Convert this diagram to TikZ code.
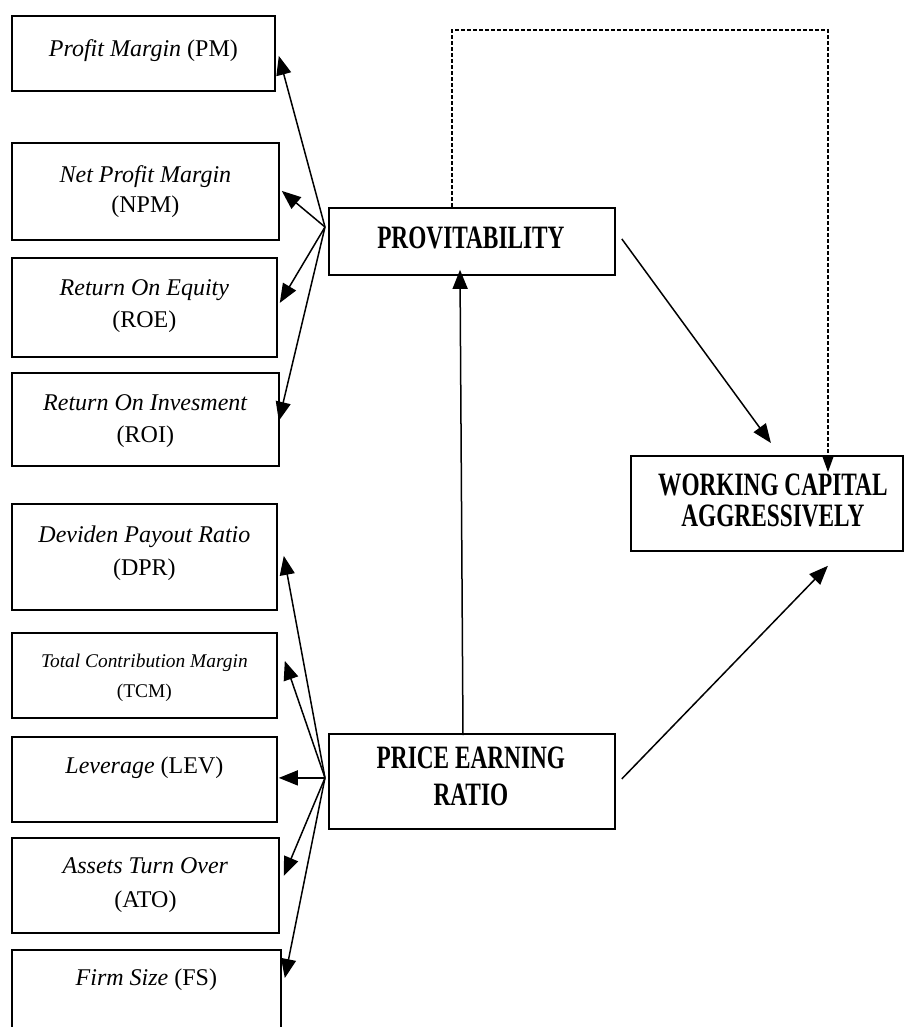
\documentclass[tikz,border=0pt]{standalone}
\usepackage{fontspec}
\setmainfont{Liberation Serif}
\usetikzlibrary{arrows.meta,calc}
\newcommand{\blab}[1]{\scalebox{1}[1.4]{\bfseries #1}}
\begin{document}
\begin{tikzpicture}[x=1pt,y=-1pt,
  box/.style={draw, line width=1.8pt, anchor=north west, inner sep=0pt},
  itl/.style={anchor=base, inner sep=0pt, align=center, font=\fontsize{24}{#1}\selectfont},
  itl/.default=32,
  bld/.style={anchor=base, inner sep=0pt, align=center, font=\fontsize{23.3}{#1}\selectfont},
  bld/.default=34,
  arr/.style={line width=1.5pt, -{Triangle[length=19pt,width=15pt]}},
  dsh/.style={line width=1.3pt, dash pattern=on 4pt off 2pt}]
\useasboundingbox (0,0) rectangle (906,1027);
\fill[white] (0,0) rectangle (906,1027);
\clip (0,0) rectangle (906,1027);

% left boxes
\node[box, minimum width=263pt, minimum height=75pt] (pm) at (11,15) {};
\node[box, minimum width=267pt, minimum height=97pt] (npm) at (11,142) {};
\node[box, minimum width=265pt, minimum height=99pt] (roe) at (11,257) {};
\node[box, minimum width=267pt, minimum height=93pt] (roi) at (11,372) {};
\node[box, minimum width=265pt, minimum height=106pt] (dpr) at (11,503) {};
\node[box, minimum width=265pt, minimum height=85pt] (tcm) at (11,632) {};
\node[box, minimum width=265pt, minimum height=85pt] (lev) at (11,736) {};
\node[box, minimum width=267pt, minimum height=95pt] (ato) at (11,837) {};
\node[box, minimum width=269pt, minimum height=100pt] (fs) at (11,949) {};

% main boxes
\node[box, minimum width=286pt, minimum height=67pt] (prov) at (328,207) {};
\node[box, minimum width=286pt, minimum height=95pt] (per) at (328,733) {};
\node[box, minimum width=272pt, minimum height=95pt] (wc) at (630,455) {};

% texts (base anchor = baseline of last line)
\node[itl] (pmt) at ($(pm.north)+(0,42)$) {\textit{Profit Margin} (PM)};
\node[itl=30] (npmt) at ($(npm.north)+(0,70)$) {\textit{Net Profit Margin}\\(NPM)};
\node[itl=32] (roet) at ($(roe.north)+(0,70)$) {\textit{Return On Equity}\\(ROE)};
\node[itl=32] (roit) at ($(roi.north)+(0,70)$) {\textit{Return On Invesment}\\(ROI)};
\node[itl=33] (dprt) at ($(dpr.north)+(0,72)$) {\textit{Deviden Payout Ratio}\\(DPR)};
\node[anchor=base, inner sep=0pt, align=center, font=\fontsize{19.4}{30}\selectfont] (tcmt) at ($(tcm.north)+(0,65)$) {\textit{Total Contribution Margin}\\(TCM)};
\node[itl] (levt) at ($(lev.north)+(0,37)$) {\textit{Leverage} (LEV)};
\node[itl=34] (atot) at ($(ato.north)+(0,70)$) {\textit{Assets Turn Over}\\(ATO)};
\node[itl] (fst) at ($(fs.north)+(0,36)$) {\textit{Firm Size} (FS)};

\node[bld] (provt) at ($(prov.north)+(-1,41)$) {\blab{PROVITABILITY}};
\node[bld=37] (pert) at ($(per.north)+(-1,72)$) {\blab{PRICE EARNING}\\\blab{RATIO}};
\node[bld=31] (wct) at ($(wc.north)+(6,71)$) {\blab{WORKING CAPITAL}\\\blab{AGGRESSIVELY}};

% fan from PROVITABILITY
\coordinate (pf) at ($(prov.north west)+(-3,20)$);
\draw[arr] (pf) -- ($(pm.east)+(3,2.5)$);
\draw[arr] (pf) -- ($(npm.east)+(2,-0.5)$);
\draw[arr] (pf) -- ($(roe.east)+(2,-4.5)$);
\draw[arr] (pf) -- ($(roi.east)+(-1,1.5)$);

% fan from PRICE EARNING RATIO
\coordinate (qf) at ($(per.west)+(-3,-3.5)$);
\draw[arr] (qf) -- ($(dpr.east)+(6,-1)$);
\draw[arr] (qf) -- ($(tcm.east)+(7,-14.5)$);
\draw[arr] (qf) -- ($(lev.east)+(1,-1.5)$);
\draw[arr] (qf) -- ($(ato.east)+(4,-9.5)$);
\draw[arr] (qf) -- ($(fs.north east)+(3,29)$);

% main arrows
\draw[arr] ($(per.north west)+(135,2)$) -- ($(prov.south west)+(132,-6)$);
\draw[arr] ($(prov.east)+(6,-2.5)$) -- ($(wc.north)+(4,-12)$);
\draw[arr] ($(per.east)+(6,-2.5)$) -- ($(wc.south)+(61,14)$);

% dashed feedback
\coordinate (d1) at (452,30);
\coordinate (d2) at (828,30);
\draw[dsh, -{Triangle[length=17pt,width=12pt]}] (d1 |- prov.north) -- (d1) -- (d2) -- ($(d2 |- wc.north)+(0,17)$);
\end{tikzpicture}
\end{document}
